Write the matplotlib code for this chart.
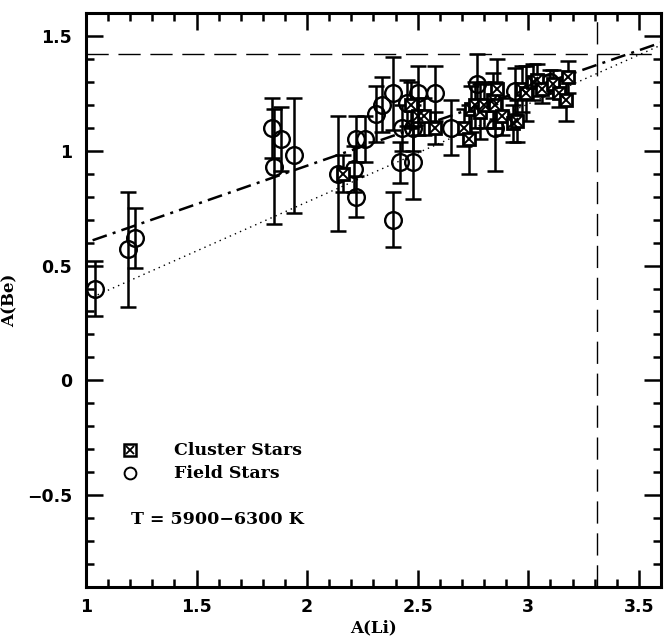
import matplotlib
matplotlib.use("Agg")
import matplotlib.pyplot as plt
import numpy as np
from matplotlib.ticker import MultipleLocator

# Field stars: A(Li), A(Be), error in A(Be)
field_li = [1.04, 1.19, 1.22, 1.84, 1.88, 1.85, 1.94, 2.14, 2.21, 2.22, 2.22, 2.26,
            2.31, 2.34, 2.39, 2.39, 2.42, 2.43, 2.45, 2.48, 2.48, 2.50, 2.58, 2.65,
            2.77, 2.85, 2.94, 3.10]
field_be = [0.40, 0.57, 0.62, 1.10, 1.05, 0.93, 0.98, 0.90, 0.92, 0.80, 1.05, 1.05,
            1.16, 1.20, 1.25, 0.70, 0.95, 1.10, 1.21, 0.95, 1.10, 1.25, 1.25, 1.10,
            1.29, 1.10, 1.26, 1.30]
field_err = [0.12, 0.25, 0.13, 0.13, 0.14, 0.25, 0.25, 0.25, 0.10, 0.09, 0.10, 0.10,
             0.12, 0.12, 0.16, 0.12, 0.09, 0.10, 0.10, 0.16, 0.10, 0.12, 0.12, 0.12,
             0.13, 0.19, 0.10, 0.05]

# Cluster stars
clus_li = [2.16, 2.47, 2.50, 2.53, 2.58, 2.71, 2.73, 2.74, 2.76, 2.78, 2.80, 2.84,
           2.86, 2.85, 2.88, 2.93, 2.95, 2.97, 2.99, 3.02, 3.04, 3.06, 3.11, 3.14,
           3.17, 3.18]
clus_be = [0.90, 1.20, 1.15, 1.15, 1.10, 1.10, 1.05, 1.18, 1.20, 1.17, 1.20, 1.22,
           1.27, 1.20, 1.15, 1.12, 1.13, 1.27, 1.25, 1.30, 1.31, 1.27, 1.29, 1.25,
           1.22, 1.32]
clus_err = [0.08, 0.10, 0.08, 0.08, 0.07, 0.08, 0.15, 0.10, 0.10, 0.12, 0.10, 0.12,
            0.13, 0.10, 0.08, 0.08, 0.09, 0.10, 0.12, 0.08, 0.07, 0.06, 0.06, 0.06,
            0.09, 0.07]

# Fitted relations (intercept at A(Li)=1, slope)
fit_all = (0.60, 0.335)
fit_field = (0.35, 0.427)

# Meteoritic reference values
li_met = 3.31
be_met = 1.42

plt.rcParams['font.family'] = ['DejaVu Sans']
fig = plt.figure(figsize=(6.68, 6.44), dpi=100)
ax = fig.add_axes([0.1287, 0.0885, 0.8608, 0.8913])

ax.set_xlim(1.0, 3.6)
ax.set_ylim(-0.9, 1.6)

# reference lines
ax.axhline(be_met, color='black', lw=1.0, dashes=(16, 7))
ax.axvline(li_met, color='black', lw=1.0, dashes=(16, 7))

xs = np.array([1.03, 3.6])
ax.plot(xs, fit_all[0] + fit_all[1] * (xs - 1.0), color='black', lw=1.8,
        dashes=(6, 2.5, 1.2, 2.5))
ax.plot(xs, fit_field[0] + fit_field[1] * (xs - 1.0), color='black', lw=1.0,
        dashes=(1, 3))

# error bars
ax.errorbar(field_li, field_be, yerr=field_err, fmt='none', ecolor='black',
            elinewidth=1.8, capsize=5.5, capthick=1.8)
ax.errorbar(clus_li, clus_be, yerr=clus_err, fmt='none', ecolor='black',
            elinewidth=1.8, capsize=5.5, capthick=1.8)

# markers
ax.plot(field_li, field_be, 'o', ms=12, mfc='none', mec='black', mew=1.7)
ax.plot(clus_li, clus_be, 's', ms=9, mfc='white', mec='black', mew=2.0)
ax.plot(clus_li, clus_be, 'x', ms=6.5, mec='black', mew=1.4)

# legend drawn as markers + text
ax.plot([1.2], [-0.305], 's', ms=8, mfc='white', mec='black', mew=1.8)
ax.plot([1.2], [-0.305], 'x', ms=6, mec='black', mew=1.3)
ax.plot([1.2], [-0.405], 'o', ms=8.5, mfc='none', mec='black', mew=1.4)
serif = dict(family='DejaVu Serif', fontweight='bold', fontsize=12.5)
ax.text(1.40, -0.305, 'Cluster Stars', va='center', ha='left', **serif)
ax.text(1.40, -0.405, 'Field Stars', va='center', ha='left', **serif)
ax.text(1.205, -0.605, 'T = 5900\u22126300 K', va='center', ha='left', **serif)

ax.set_xlabel('A(Li)', fontsize=12, fontweight='bold', family='DejaVu Serif',
              labelpad=2)
ax.set_ylabel('A(Be)', fontsize=12, fontweight='bold', family='DejaVu Serif')
ax.yaxis.set_label_coords(-0.118, 0.5)

ax.xaxis.set_major_locator(MultipleLocator(0.5))
ax.xaxis.set_minor_locator(MultipleLocator(0.1))
ax.yaxis.set_major_locator(MultipleLocator(0.5))
ax.yaxis.set_minor_locator(MultipleLocator(0.1))
ax.set_xticks([1, 1.5, 2, 2.5, 3, 3.5])
ax.set_xticklabels(['1', '1.5', '2', '2.5', '3', '3.5'])
ax.set_yticks([-0.5, 0, 0.5, 1, 1.5])
ax.set_yticklabels(['\u22120.5', '0', '0.5', '1', '1.5'])
ax.tick_params(which='both', direction='in', top=True, right=True, width=1.8)
ax.tick_params(which='major', length=12, labelsize=12.5)
ax.tick_params(axis='x', which='major', pad=8)
ax.tick_params(axis='y', which='major', pad=10)
ax.tick_params(which='minor', length=6)
for lab in ax.get_xticklabels() + ax.get_yticklabels():
    lab.set_fontweight('bold')
for s in ax.spines.values():
    s.set_linewidth(2.2)

fig.savefig('out.png', dpi=100)
